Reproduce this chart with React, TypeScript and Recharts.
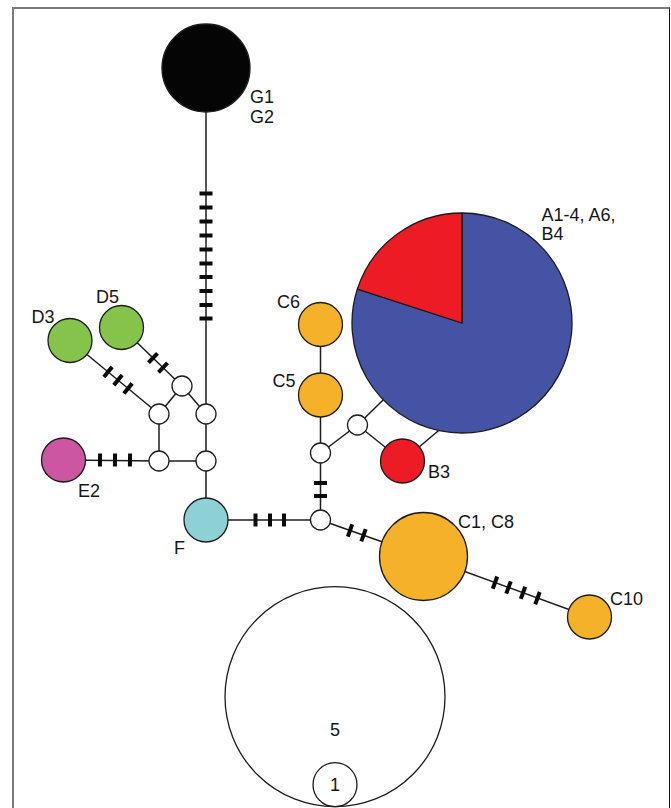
import React from "react";
import { ScatterChart, Scatter, XAxis, YAxis } from "recharts";

const W = 671;
const H = 808;

// haplotype network nodes (drawing plane, y grows downward)
const nodeIds = ["G", "D3", "D5", "E2", "F", "C6", "C5", "B3", "AB", "C18", "C10", "m1", "m2", "m3", "m4", "m5", "m6", "m7", "m8", "jAB"];
const nodeX = [206, 70, 121.5, 63.5, 206, 320.5, 320.5, 402.5, 462, 423.5, 589.5, 182, 159, 206, 159, 206, 320.5, 320.5, 357.5, 444];
const nodeY = [68, 340.5, 327.5, 460, 520, 324.5, 395, 461, 323, 556.5, 617, 386, 414, 414, 461, 461, 520, 453, 425, 426];
// samples per clade in each haplotype; [] = median vector, null = hidden junction
const nodeCounts: (number[] | null)[] = [[2], [1], [1], [1], [1], [1], [1], [1], [4, 1], [2], [1], [], [], [], [], [], [], [], [], null];
const nodeClades: string[][] = [["G"], ["D"], ["D"], ["E"], ["F"], ["C"], ["C"], ["B"], ["A", "B"], ["C"], ["C"], [], [], [], [], [], [], [], [], []];

const edges: [string, string][] = [
  ["G", "m3"], ["D3", "m2"], ["D5", "m1"], ["m1", "m2"], ["m1", "m3"], ["m2", "m4"], ["m3", "m5"],
  ["m4", "m5"], ["E2", "m4"], ["m5", "F"], ["F", "m6"], ["m6", "m7"], ["m7", "C5"], ["C5", "C6"],
  ["m7", "m8"], ["m8", "AB"], ["m8", "B3"], ["B3", "jAB"], ["m6", "C18"], ["C18", "C10"],
];

// mutation hatch marks: edge, x, y
const mutations: [number, number, number][] = [
  [0, 206, 193.5], [0, 206, 207.5], [0, 206, 221.5], [0, 206, 235.5], [0, 206, 249.5],
  [0, 206, 263.5], [0, 206, 277], [0, 206, 291], [0, 206, 305], [0, 206, 318.5],
  [1, 108, 371.9], [1, 118, 380.1], [1, 128, 388.4],
  [2, 153, 358], [2, 163, 367.6],
  [8, 100, 460], [8, 115, 460], [8, 130, 460],
  [10, 255.5, 520], [10, 270, 520], [10, 284, 520],
  [11, 320.5, 483], [11, 320.5, 496],
  [18, 350, 530.5], [18, 363.5, 535.2],
  [19, 495, 582.6], [19, 508.5, 587.5], [19, 523, 592.8], [19, 537.5, 598.1],
];

const labelText = ["G1", "G2", "A1-4, A6,", "B4", "D3", "D5", "C6", "C5", "E2", "B3", "F", "C1, C8", "C10", "5", "1"];
const labelX = [250, 250, 541.5, 541.5, 31.5, 96, 277, 272.5, 78, 428, 174, 458, 610, 335, 335];
const labelY = [102.5, 122.5, 220.5, 239.5, 323, 302.5, 307.5, 386.5, 496.5, 478, 553.5, 528, 604.5, 735.5, 791];

// size legend
const legendCounts = [5, 1];
const legendX = 335;
const legendBottom = 806.7;

const UNIT_R = 22;
const MV_R = 10;
const INK = "#1c1c1c";
const cladeColor: Record<string, string> = {
  G: "#050505", D: "#86c34b", E: "#cd56a2", F: "#8dd0d6", C: "#f6b12a", B: "#ed1c24", A: "#4553a4",
};

const nodes = nodeIds.map((id, i) => {
  const counts = nodeCounts[i];
  const total = counts ? counts.reduce((a, b) => a + b, 0) : 0;
  return {
    id, x: nodeX[i], y: nodeY[i], counts, clades: nodeClades[i],
    r: counts === null ? 0 : counts.length ? total * UNIT_R : MV_R,
  };
});
const byId = Object.fromEntries(nodes.map((n) => [n.id, n]));

const hatches = mutations.map(([e, x, y]) => {
  const a = byId[edges[e][0]];
  const b = byId[edges[e][1]];
  return { x, y, angle: (Math.atan2(b.y - a.y, b.x - a.x) * 180) / Math.PI };
});

const labels = labelText.map((t, i) => ({ x: labelX[i], y: labelY[i], text: t, mid: i >= 13 }));

const legend = legendCounts.map((c) => ({ x: legendX, y: legendBottom - c * UNIT_R, r: c * UNIT_R }));

const Empty = () => <g />;

const NodeShape = (p: any) => {
  const { cx, cy, payload } = p;
  const { counts, clades, r } = payload;
  if (counts === null) return <g />;
  if (counts.length === 0) {
    return <circle cx={cx} cy={cy} r={r} fill="#fff" stroke={INK} strokeWidth={1.3} />;
  }
  if (counts.length === 1) {
    return <circle cx={cx} cy={cy} r={r} fill={cladeColor[clades[0]]} stroke={INK} strokeWidth={1.3} />;
  }
  const total = counts.reduce((a: number, b: number) => a + b, 0);
  let acc = 0;
  const pt = (f: number) => {
    const t = f * 2 * Math.PI;
    return [cx + r * Math.sin(t), cy - r * Math.cos(t)];
  };
  return (
    <g>
      {counts.map((c: number, i: number) => {
        const [x0, y0] = pt(acc / total);
        acc += c;
        const [x1, y1] = pt(acc / total);
        const large = c / total > 0.5 ? 1 : 0;
        return (
          <path
            key={i}
            d={`M${cx},${cy} L${x0},${y0} A${r},${r} 0 ${large} 1 ${x1},${y1} Z`}
            fill={cladeColor[clades[i]]}
            stroke={INK}
            strokeWidth={1.3}
            strokeLinejoin="round"
          />
        );
      })}
    </g>
  );
};

const HatchShape = (p: any) => {
  const { cx, cy, payload } = p;
  return (
    <rect x={cx - 2} y={cy - 6.5} width={4} height={13} fill="#0a0a0a"
      transform={`rotate(${payload.angle} ${cx} ${cy})`} />
  );
};

const LegendShape = (p: any) => (
  <circle cx={p.cx} cy={p.cy} r={p.payload.r} fill="none" stroke={INK} strokeWidth={1.3} />
);

const LabelShape = (p: any) => (
  <text x={p.cx} y={p.cy} textAnchor={p.payload.mid ? "middle" : "start"}
    fontFamily="'Liberation Sans', Arial, sans-serif" fontSize={18} fill="#161616">
    {p.payload.text}
  </text>
);

export default function App() {
  return (
    <div style={{ position: "absolute", left: 0, top: 0, width: W, height: H, background: "#fff", overflow: "hidden" }}>
      <ScatterChart width={W} height={H} margin={{ top: 0, right: 0, bottom: 0, left: 0 }}>
        <XAxis type="number" dataKey="x" domain={[0, W]} hide allowDataOverflow />
        <YAxis type="number" dataKey="y" domain={[0, H]} reversed hide allowDataOverflow />
        {edges.map(([a, b], i) => (
          <Scatter key={`e${i}`} data={[byId[a], byId[b]]} line={{ stroke: INK, strokeWidth: 1.5 }}
            shape={Empty} isAnimationActive={false} />
        ))}
        <Scatter data={hatches} shape={HatchShape} isAnimationActive={false} />
        <Scatter data={nodes} shape={NodeShape} isAnimationActive={false} />
        <Scatter data={legend} shape={LegendShape} isAnimationActive={false} />
        <Scatter data={labels} shape={LabelShape} isAnimationActive={false} />
      </ScatterChart>
      <div style={{
        position: "absolute", left: 12, top: 7, width: 658, height: 801, boxSizing: "border-box",
        borderLeft: "2px solid #7c7c7c", borderTop: "2px solid #7c7c7c", borderRight: "1.5px solid #111",
        pointerEvents: "none",
      }} />
    </div>
  );
}
